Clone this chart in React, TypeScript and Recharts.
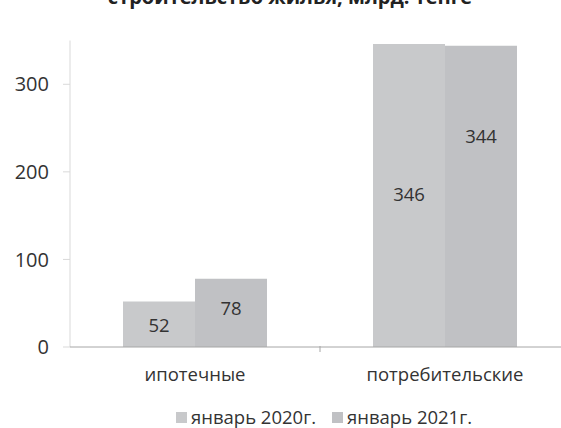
import React from 'react';
import { BarChart, Bar, XAxis, YAxis, Legend, LabelList } from 'recharts';

const categories = ['ипотечные', 'потребительские'];
const jan2020 = [52, 346];
const jan2021 = [78, 344];
const seriesNames = ['январь 2020г.', 'январь 2021г.'];
const yTicks = [0, 100, 200, 300];
const title = 'строительство жилья, млрд. тенге';

const data = categories.map((c, i) => ({ name: c, a: jan2020[i], b: jan2021[i] }));

const C1 = '#c8c9cb';
const C2 = '#c0c1c4';
const FONT = '"Open Sans", sans-serif';
const FS = 18.5;
const HALF_BAND = 125;

const XTick = (props: any) => {
  const { x, y, payload, index } = props;
  return (
    <g>
      {index === 0 && (
        <line x1={x + HALF_BAND} y1={y - 9} x2={x + HALF_BAND} y2={y - 3} stroke="#a6a6a6" />
      )}
      <text x={x} y={y + 26} textAnchor="middle" fontSize={FS} fill="#333" fontFamily={FONT}>
        {payload.value}
      </text>
    </g>
  );
};

const makeLabel = (shift: number[]) => (props: any) => {
  const { x, y, width, height, value, index } = props;
  return (
    <text
      x={x + width / 2}
      y={y + height / 2 + (shift[index] || 0)}
      textAnchor="middle"
      dominantBaseline="central"
      fontSize={FS}
      fill="#333"
      fontFamily={FONT}
    >
      {value}
    </text>
  );
};

const LegendContent = () => (
  <div style={{ display: 'flex', justifyContent: 'center', fontFamily: FONT, fontSize: FS, color: '#333', lineHeight: '22px' }}>
    {seriesNames.map((n, i) => (
      <span key={n} style={{ display: 'flex', alignItems: 'center', marginRight: i === 0 ? 16 : 0 }}>
        <span style={{ display: 'inline-block', width: 11, height: 11, background: i === 0 ? C1 : C2, marginRight: 4 }} />
        {n}
      </span>
    ))}
  </div>
);

export default function App() {
  return (
    <div style={{ position: 'absolute', left: 0, top: 0, width: 561, height: 428, overflow: 'hidden', background: '#fff' }}>
      <svg style={{ position: 'absolute', left: 0, top: 0, zIndex: 2 }} width={561} height={20}>
        <text x={290} y={4} textAnchor="middle" fontSize={20} fontWeight="bold" fill="#222" fontFamily={FONT}>
          {title}
        </text>
      </svg>
      <BarChart
        width={580}
        height={428}
        data={data}
        margin={{ top: 40.5, right: 10, left: 0, bottom: 29 }}
        barCategoryGap={53}
        barGap={0}
      >
        <YAxis
          domain={[0, 350]}
          ticks={yTicks}
          width={70}
          tickSize={7}
          tickMargin={14}
          axisLine={{ stroke: '#d9d9d9' }}
          tickLine={{ stroke: '#d9d9d9' }}
          tick={{ fontSize: 20, fill: '#333', fontFamily: FONT }}
        />
        <XAxis
          dataKey="name"
          height={30}
          tickLine={false}
          axisLine={{ stroke: '#a6a6a6' }}
          tick={<XTick />}
          interval={0}
        />
        <Legend
          content={<LegendContent />}
          wrapperStyle={{ position: 'absolute', top: 406, left: 34, width: 580 }}
        />
        <Bar dataKey="a" name={seriesNames[0]} fill={C1} isAnimationActive={false}>
          <LabelList dataKey="a" content={makeLabel([0, -2])} />
        </Bar>
        <Bar dataKey="b" name={seriesNames[1]} fill={C2} isAnimationActive={false}>
          <LabelList dataKey="b" content={makeLabel([-5, -61])} />
        </Bar>
      </BarChart>
    </div>
  );
}
